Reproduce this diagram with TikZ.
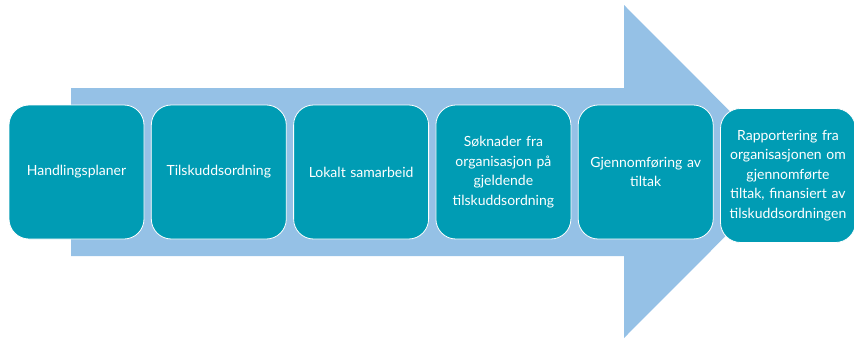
\documentclass[tikz,border=0pt]{standalone}
\usepackage{fontspec}
\setmainfont{Lato}
\usepackage{xcolor}
\usepackage{tikz}
\usetikzlibrary{positioning}
\definecolor{arrowblue}{RGB}{149, 193, 230}
\definecolor{stepteal}{RGB}{0, 156, 180}

\tikzset{
    stage/.style={rectangle, rounded corners=20pt, fill=stepteal, draw=white, line width=0.8pt,
        minimum width=135pt, minimum height=134pt, text width=130pt, align=center,
        text=white, font=\fontsize{14}{19.5}\selectfont, inner sep=2pt}
}

\begin{document}
\begin{tikzpicture}[x=1pt, y=-1pt, node distance=6.5pt]
    \useasboundingbox (0,0) rectangle (854,340);

    % The big arrow behind the stages
    \fill[arrowblue] (71,88) -- (624,88) -- (624,5) -- (790,171.5) -- (624,338)
        -- (624,256) -- (71,256) -- cycle;

    % The stages
    \node[stage] (plans) at (76.5,172) {Handlingsplaner};
    \node[stage, right=of plans] (scheme) {Tilskuddsordning};
    \node[stage, right=of scheme] (local) {Lokalt samarbeid};
    \node[stage, right=of local] (apply) {Søknader fra\\organisasjon på\\gjeldende\\tilskuddsordning};
    \node[stage, right=of apply] (doing) {Gjennomføring av\\tiltak};
    \node[stage, right=of doing, yshift=-3.5pt] (report) {Rapportering fra\\organisasjonen om\\gjennomførte\\tiltak, finansiert av\\tilskuddsordningen};
\end{tikzpicture}
\end{document}
